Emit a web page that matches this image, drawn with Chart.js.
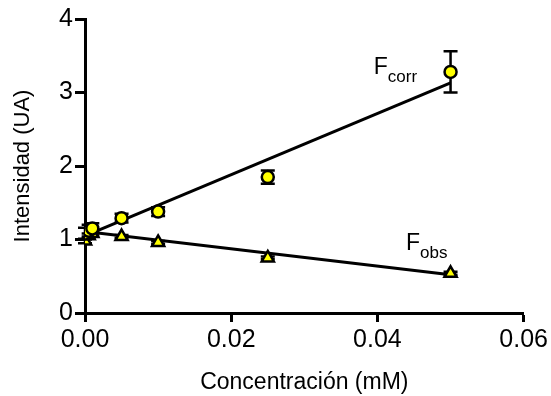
<!DOCTYPE html>
<html>
<head>
<meta charset="utf-8">
<script src="https://cdn.jsdelivr.net/npm/chart.js@4"></script>
<style>
  body { margin: 0; background: #fff; }
  #wrap { width: 551px; height: 396px; }
</style>
</head>
<body>
<div id="wrap"><canvas id="chart" width="551" height="396"></canvas></div>
<script>
// concentration (mM)
const concentracion = [0, 0.0005, 0.001, 0.005, 0.01, 0.025, 0.05];
// corrected intensity + SD
const fCorr = [1.08, 1.12, 1.15, 1.29, 1.38, 1.85, 3.28];
const fCorrErr = [0.08, 0.08, 0.07, 0.06, 0.06, 0.09, 0.28];
// observed intensity + SD
const fObs = [0.98, 1.05, 1.08, 1.04, 0.96, 0.75, 0.54];
const fObsErr = [0.03, 0.03, 0.03, 0.02, 0.02, 0.02, 0.02];
// linear fits
const fitX = [0, 0.05];
const fCorrFit = [1.05, 3.13];
const fObsFit = [1.11, 0.52];

const xTicks = [0, 0.02, 0.04, 0.06];
const yTicks = [0, 1, 2, 3, 4];

const FONT = "'Liberation Sans', Arial, sans-serif";

function toPts(xs, ys) {
    return xs.map((x, i) => ({ x: x, y: ys[i] }));
}

// error bars, drawn before the markers
const errorBars = {
    id: 'errorBars',
    beforeDatasetsDraw(chart) {
        const ctx = chart.ctx;
        const xs = chart.scales.x, ys = chart.scales.y;
        ctx.save();
        ctx.strokeStyle = '#000';
        ctx.lineWidth = 2.5;
        chart.data.datasets.forEach(ds => {
            if (!ds.errors) return;
            ds.data.forEach((p, i) => {
                const px = xs.getPixelForValue(p.x);
                const top = ys.getPixelForValue(p.y + ds.errors[i]);
                const bot = ys.getPixelForValue(p.y - ds.errors[i]);
                ctx.beginPath();
                ctx.moveTo(px, top); ctx.lineTo(px, bot);
                ctx.moveTo(px - 7, top); ctx.lineTo(px + 7, top);
                ctx.moveTo(px - 7, bot); ctx.lineTo(px + 7, bot);
                ctx.stroke();
            });
        });
        ctx.restore();
    }
};

// F_corr / F_obs labels
const seriesLabels = {
    id: 'seriesLabels',
    afterDatasetsDraw(chart) {
        const ctx = chart.ctx;
        const xs = chart.scales.x, ys = chart.scales.y;
        const items = [
            { x: 0.0395, y: 3.25, sub: 'corr' },
            { x: 0.0439, y: 0.86, sub: 'obs' }
        ];
        ctx.save();
        ctx.fillStyle = '#000';
        ctx.textBaseline = 'alphabetic';
        items.forEach(it => {
            const px = xs.getPixelForValue(it.x);
            const py = ys.getPixelForValue(it.y);
            ctx.font = '23px ' + FONT;
            ctx.fillText('F', px, py);
            const w = ctx.measureText('F').width;
            ctx.font = '17px ' + FONT;
            ctx.fillText(it.sub, px + w, py + 8);
        });
        ctx.restore();
    }
};

new Chart(document.getElementById('chart'), {
    type: 'scatter',
    data: {
        datasets: [
            {
                label: 'Fcorr',
                data: toPts(concentracion, fCorr),
                errors: fCorrErr,
                pointStyle: 'circle',
                pointRadius: 6,
                backgroundColor: '#ffff00',
                borderColor: '#000',
                borderWidth: 2.5,
                order: 0
            },
            {
                label: 'Fobs',
                data: toPts(concentracion, fObs),
                errors: fObsErr,
                pointStyle: 'triangle',
                pointRadius: 7,
                backgroundColor: '#ffff00',
                borderColor: '#000',
                borderWidth: 2.5,
                order: 0
            },
            {
                type: 'line',
                label: 'fit corr',
                data: toPts(fitX, fCorrFit),
                borderColor: '#000',
                borderWidth: 3,
                pointRadius: 0,
                order: 1
            },
            {
                type: 'line',
                label: 'fit obs',
                data: toPts(fitX, fObsFit),
                borderColor: '#000',
                borderWidth: 3,
                pointRadius: 0,
                order: 1
            }
        ]
    },
    options: {
        responsive: false,
        animation: false,
        layout: { padding: { top: 19, right: 26, left: 10, bottom: 0 } },
        plugins: { legend: { display: false }, tooltip: { enabled: false } },
        scales: {
            x: {
                type: 'linear',
                min: 0, max: 0.06,
                afterBuildTicks: s => { s.ticks = xTicks.map(v => ({ value: v })); },
                afterFit: s => { s.height = 83; },
                border: { color: '#000', width: 3 },
                grid: { drawOnChartArea: false, drawTicks: true, tickLength: 9, tickWidth: 3, color: '#000' },
                ticks: {
                    color: '#000', padding: 3, maxRotation: 0,
                    font: { family: FONT, size: 25 },
                    callback: v => v.toFixed(2)
                },
                title: {
                    display: true, text: 'Concentración (mM)', color: '#000',
                    font: { family: FONT, size: 23 }, padding: { top: 0, bottom: 0 }
                }
            },
            y: {
                type: 'linear',
                min: 0, max: 4,
                afterBuildTicks: s => { s.ticks = yTicks.map(v => ({ value: v })); },
                afterFit: s => { s.width = 75; },
                border: { color: '#000', width: 3 },
                grid: { drawOnChartArea: false, drawTicks: true, tickLength: 10, tickWidth: 3, color: '#000' },
                ticks: {
                    color: '#000', padding: 2,
                    font: { family: FONT, size: 25 },
                    callback: v => String(v)
                },
                title: {
                    display: true, text: 'Intensidad (UA)', color: '#000',
                    font: { family: FONT, size: 22 }, padding: 0
                }
            }
        }
    },
    plugins: [errorBars, seriesLabels]
});
</script>
</body>
</html>
